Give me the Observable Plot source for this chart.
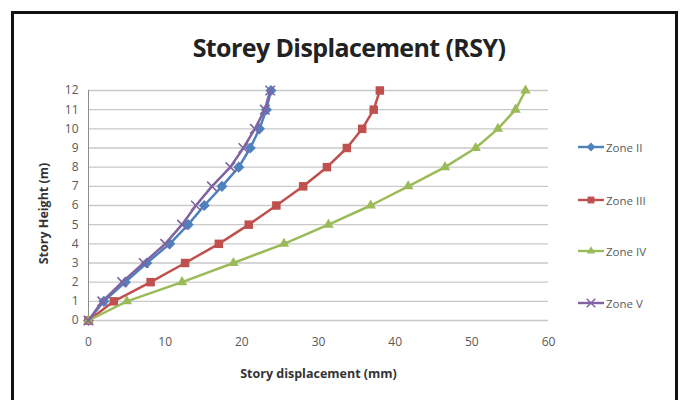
<!DOCTYPE html>
<html>
<head>
<meta charset="utf-8">
<script src="https://cdn.jsdelivr.net/npm/d3@7"></script>
<script src="https://cdn.jsdelivr.net/npm/@observablehq/plot@0.6"></script>
<style>
  html, body { margin: 0; padding: 0; background: #fff; overflow: hidden; }
  #wrap { position: relative; width: 686px; height: 400px; overflow: hidden; background: #fff; }
  #frame { position: absolute; left: 11px; top: 11px; width: 667px; height: 420px; border: 3px solid #111; box-sizing: border-box; }
  #title { position: absolute; left: 0; width: 686px; padding-left: 12px; box-sizing: border-box; top: 35px; line-height: 25px; text-align: center; font-family: "Open Sans", sans-serif; font-weight: 700; font-size: 25px; letter-spacing: -0.6px; color: #222; }
  #chart { position: absolute; left: 0; top: 0; }
  #legend { position: absolute; left: 578px; top: 0; font-family: "Open Sans", sans-serif; font-size: 11.5px; color: #595959; }
  .item { position: absolute; left: 0; display: flex; align-items: center; white-space: nowrap; }
  .item svg { margin-right: 2px; }
</style>
</head>
<body>
<div id="wrap">
  <div id="frame"></div>
  <div id="chart"></div>
  <div id="title">Storey Displacement (RSY)</div>
  <div id="legend"></div>
</div>
<script>
const heights = [0, 1, 2, 3, 4, 5, 6, 7, 8, 9, 10, 11, 12];
const zoneII  = [0, 2.0, 4.8, 7.6, 10.6, 13.0, 15.1, 17.4, 19.6, 21.1, 22.3, 23.2, 23.8];
const zoneIII = [0, 3.3, 8.1, 12.6, 17.0, 20.9, 24.5, 28.0, 31.1, 33.7, 35.7, 37.2, 38.0];
const zoneIV  = [0, 5.0, 12.2, 18.9, 25.5, 31.3, 36.8, 41.7, 46.5, 50.5, 53.4, 55.7, 57.0];
const zoneV   = [0, 1.8, 4.4, 7.2, 10.0, 12.2, 14.0, 16.1, 18.5, 20.2, 21.7, 23.0, 23.7];
const seriesNames = ["Zone II", "Zone III", "Zone IV", "Zone V"];
const seriesColors = ["#4F81BD", "#C0504D", "#9BBB59", "#8064A2"];
const seriesSymbols = ["diamond2", "square2", "triangle2", "times"];
const xTicks = [0, 10, 20, 30, 40, 50, 60];
const yTicks = [0, 1, 2, 3, 4, 5, 6, 7, 8, 9, 10, 11, 12];

const allValues = [zoneII, zoneIII, zoneIV, zoneV];
const data = [];
allValues.forEach((vals, i) => {
  vals.forEach((v, j) => data.push({zone: seriesNames[i], x: v, y: heights[j]}));
});

const marks = [
  Plot.ruleY(yTicks, {stroke: "#c9c9c9", strokeWidth: 1.3}),
  Plot.ruleX([0], {stroke: "#8c8c8c", strokeWidth: 1}),
  Plot.axisX({ticks: xTicks, tickSize: 0, tickPadding: 17, label: null, fill: "#595959", fontSize: 12, fontFamily: "Open Sans"}),
  Plot.axisY({ticks: yTicks, tickSize: 0, tickPadding: 10, label: null, fill: "#595959", fontSize: 12, fontFamily: "Open Sans"}),
  Plot.text(["Story displacement (mm)"], {frameAnchor: "bottom", lineAnchor: "middle", dy: 53, fontWeight: "bold", fontSize: 12.5, fontFamily: "Open Sans", fill: "#333"}),
  Plot.text(["Story Height (m)"], {frameAnchor: "left", textAnchor: "middle", lineAnchor: "middle", dx: -45, dy: 8, rotate: -90, fontWeight: "bold", fontSize: 12.5, fontFamily: "Open Sans", fill: "#333"})
];
seriesNames.forEach((name, i) => {
  const d = data.filter(r => r.zone === name);
  marks.push(Plot.line(d, {x: "x", y: "y", stroke: seriesColors[i], strokeWidth: 2.5}));
  if (seriesSymbols[i] === "times") {
    marks.push(Plot.dot(d, {x: "x", y: "y", symbol: "times", stroke: seriesColors[i], strokeWidth: 1.6, r: 4.4}));
  } else {
    marks.push(Plot.dot(d, {x: "x", y: "y", symbol: seriesSymbols[i], fill: seriesColors[i], stroke: "none", r: seriesSymbols[i] === "square2" ? 5.4 : 5}));
  }
});

const plot = Plot.plot({
  width: 686,
  height: 400,
  marginLeft: 88,
  marginRight: 138,
  marginTop: 90,
  marginBottom: 80,
  style: {background: "transparent", fontFamily: "Open Sans"},
  x: {domain: [0, 60]},
  y: {domain: [0, 12]},
  marks
});
document.getElementById("chart").appendChild(plot);

// legend
const legendTops = [147, 200, 251, 303];
const leg = document.getElementById("legend");
seriesNames.forEach((name, i) => {
  const item = document.createElement("div");
  item.className = "item";
  item.style.top = (legendTops[i] - 8) + "px";
  const sym = d3.symbol(i === 3 ? d3.symbolTimes : [d3.symbolDiamond2, d3.symbolSquare2, d3.symbolTriangle2][i], i === 1 ? 60 : 50)();
  const filled = i !== 3;
  item.innerHTML = `<svg width="26" height="16"><line x1="0" x2="26" y1="8" y2="8" stroke="${seriesColors[i]}" stroke-width="2.4"/><path transform="translate(13,8)" d="${sym}" fill="${filled ? seriesColors[i] : "none"}" stroke="${filled ? "none" : seriesColors[i]}" stroke-width="1.5"/></svg><span>${name}</span>`;
  leg.appendChild(item);
});
</script>
</body>
</html>
